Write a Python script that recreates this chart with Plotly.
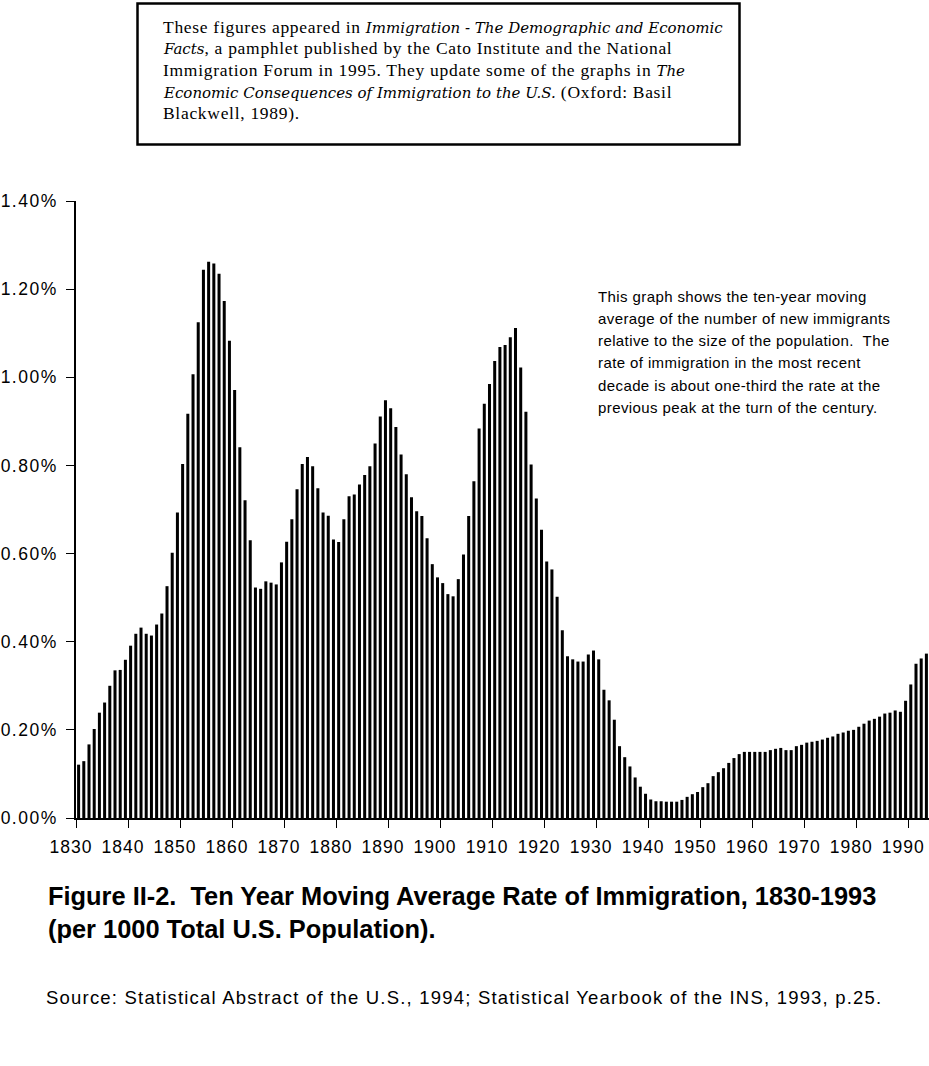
import plotly.graph_objects as go

# ---------------- data ----------------
years = list(range(1830, 1994))
rate_pct = [
    # 1830s
    0.121, 0.129, 0.167, 0.202, 0.239, 0.262, 0.300, 0.335, 0.336, 0.359,
    # 1840s
    0.391, 0.418, 0.432, 0.418, 0.414, 0.439, 0.464, 0.526, 0.602, 0.693,
    # 1850s
    0.803, 0.917, 1.007, 1.125, 1.244, 1.262, 1.258, 1.235, 1.173, 1.083,
    # 1860s
    0.971, 0.841, 0.721, 0.630, 0.523, 0.520, 0.537, 0.534, 0.530, 0.580,
    # 1870s
    0.627, 0.678, 0.746, 0.803, 0.819, 0.798, 0.748, 0.693, 0.686, 0.632,
    # 1880s
    0.626, 0.678, 0.730, 0.734, 0.757, 0.778, 0.798, 0.850, 0.911, 0.948,
    # 1890s
    0.930, 0.887, 0.825, 0.780, 0.728, 0.696, 0.685, 0.635, 0.576, 0.546,
    # 1900s
    0.533, 0.508, 0.503, 0.542, 0.598, 0.685, 0.764, 0.884, 0.940, 0.985,
    # 1910s
    1.037, 1.069, 1.073, 1.091, 1.112, 1.022, 0.922, 0.802, 0.725, 0.654,
    # 1920s
    0.582, 0.564, 0.502, 0.426, 0.367, 0.360, 0.355, 0.355, 0.371, 0.380,
    # 1930s
    0.360, 0.291, 0.267, 0.223, 0.163, 0.138, 0.117, 0.092, 0.071, 0.055,
    # 1940s
    0.042, 0.038, 0.038, 0.037, 0.037, 0.037, 0.041, 0.048, 0.054, 0.059,
    # 1950s
    0.070, 0.079, 0.095, 0.104, 0.113, 0.125, 0.136, 0.145, 0.150, 0.150,
    # 1960s
    0.150, 0.150, 0.150, 0.154, 0.157, 0.159, 0.154, 0.154, 0.163, 0.166,
    # 1970s
    0.171, 0.173, 0.175, 0.178, 0.182, 0.185, 0.191, 0.194, 0.198, 0.200,
    # 1980s
    0.207, 0.214, 0.221, 0.225, 0.230, 0.237, 0.239, 0.244, 0.241, 0.266,
    # 1990s
    0.303, 0.350, 0.362, 0.373,
]
decade_labels = ["1830", "1840", "1850", "1860", "1870", "1880", "1890", "1900",
                 "1910", "1920", "1930", "1940", "1950", "1960", "1970", "1980", "1990"]
y_ticks = [0.0, 0.2, 0.4, 0.6, 0.8, 1.0, 1.2, 1.4]
y_tick_labels = ["0.00%", "0.20%", "0.40%", "0.60%", "0.80%", "1.00%", "1.20%", "1.40%"]

note_lines = [
    "These figures appeared in <i>Immigration - The Demographic and Economic</i>",
    "<i>Facts</i>, a pamphlet published by the Cato Institute and the National",
    "Immigration Forum in 1995. They update some of the graphs in <i>The</i>",
    "<i>Economic Consequences of Immigration to the U.S.</i> (Oxford: Basil",
    "Blackwell, 1989).",
]
side_lines = [
    "This graph shows the ten-year moving",
    "average of the number of new immigrants",
    "relative to the size of the population.  The",
    "rate of immigration in the most recent",
    "decade is about one-third the rate at the",
    "previous peak at the turn of the century.",
]
caption_lines = [
    "Figure II-2.  Ten Year Moving Average Rate of Immigration, 1830-1993",
    "(per 1000 Total U.S. Population).",
]
source_text = "Source: Statistical Abstract of the U.S., 1994; Statistical Yearbook of the INS, 1993, p.25."

# ---------------- layout geometry (pixels) ----------------
W, H = 929, 1066
L, R, T, B = 76, 0, 201, 248
PW, PH = W - L - R, H - T - B


def px(x):
    return (x - L) / PW


def py(y):
    return (H - B - y) / PH


def spaced(txt, ls):
    return '<span style="letter-spacing:%spx">%s</span>' % (ls, txt)


SANS = "Liberation Sans, Arial, Helvetica, sans-serif"
SERIF = "Liberation Serif, Times New Roman, serif"

fig = go.Figure()
fig.add_trace(go.Bar(x=years, y=rate_pct, marker=dict(color="black", line=dict(width=0)),
                     hoverinfo="x+y"))

first = years[0]
tickpos = [first - 0.5 + 10 * i for i in range(len(decade_labels))]

fig.update_layout(
    width=W, height=H,
    margin=dict(l=L, r=R, t=T, b=B, pad=0),
    paper_bgcolor="white", plot_bgcolor="white",
    bargap=0.42,
    showlegend=False,
    xaxis=dict(
        range=[first - 0.5, years[-1] + 0.5],
        tickmode="array", tickvals=tickpos,
        ticktext=[spaced(t, 1.0) for t in decade_labels],
        ticks="outside", ticklen=8, tickwidth=1.3, tickcolor="black",
        ticklabelshift=-5, ticklabelstandoff=4,
        showline=True, linecolor="black", linewidth=1.5,
        showgrid=False, zeroline=False,
        tickfont=dict(family=SANS, size=17.5, color="black"),
    ),
    yaxis=dict(
        range=[0, 1.4],
        tickmode="array", tickvals=y_ticks,
        ticktext=[spaced(t, 1.5) for t in y_tick_labels],
        ticks="outside", ticklen=8, tickwidth=1.3, tickcolor="black",
        ticklabelstandoff=5,
        showline=True, linecolor="black", linewidth=1.5,
        showgrid=False, zeroline=False,
        tickfont=dict(family=SANS, size=17.5, color="black"),
    ),
)

# note box at the top
fig.add_shape(type="rect", xref="paper", yref="paper",
              x0=px(137.5), x1=px(739.5), y0=py(144.5), y1=py(3.5),
              line=dict(color="black", width=2.5), fillcolor="white")

note_y = [27, 48.5, 70, 91.5, 113]
for txt, yy in zip(note_lines, note_y):
    parts = txt.replace("</i>", "<i>").split("<i>")
    out = ""
    for k, p in enumerate(parts):
        if not p:
            continue
        if k % 2 == 1:
            out += '<i><span style="font-family:DejaVu Serif;font-size:15px">%s</span></i>' % p
        else:
            out += spaced(p, 0.7)
    fig.add_annotation(xref="paper", yref="paper", x=px(161), y=py(yy),
                       xanchor="left", yanchor="middle", showarrow=False, align="left",
                       text=out, font=dict(family=SERIF, size=17.5, color="black"))

side_y = [296, 318, 340, 362.5, 385, 407]
for txt, yy in zip(side_lines, side_y):
    fig.add_annotation(xref="paper", yref="paper", x=px(596), y=py(yy),
                       xanchor="left", yanchor="middle", showarrow=False, align="left",
                       text=spaced(txt, 0.4), font=dict(family=SANS, size=15, color="black"))

cap_y = [896, 929]
for txt, yy in zip(caption_lines, cap_y):
    fig.add_annotation(xref="paper", yref="paper", x=px(46), y=py(yy),
                       xanchor="left", yanchor="middle", showarrow=False, align="left",
                       text="<b>" + txt + "</b>", font=dict(family=SANS, size=25.4, color="black"))

fig.add_annotation(xref="paper", yref="paper", x=px(44), y=py(997),
                   xanchor="left", yanchor="middle", showarrow=False, align="left",
                   text=spaced(source_text, 1.2), font=dict(family=SANS, size=18.5, color="black"))

fig.write_html("out.html", config={"displayModeBar": False},
               post_script="document.body.style.margin='0';")
